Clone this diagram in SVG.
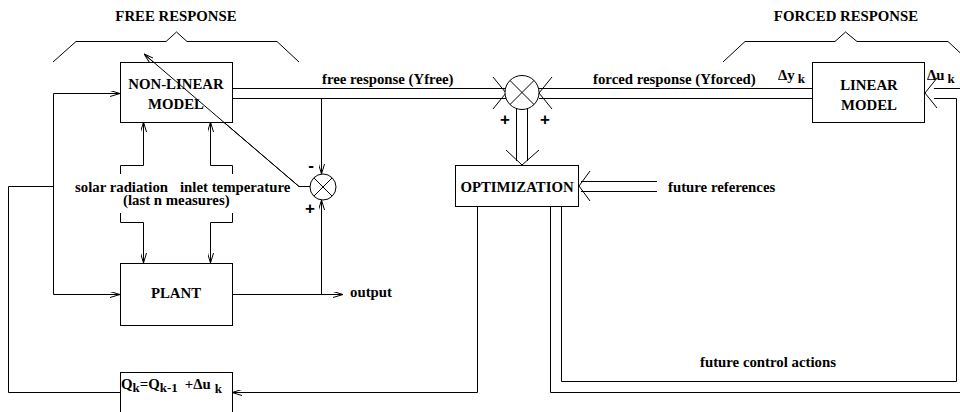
<svg xmlns="http://www.w3.org/2000/svg" width="960" height="412" viewBox="0 0 960 412">
<defs>
<style>
.l{fill:none;stroke:#000;stroke-width:1}
.b{fill:#fff;stroke:#000;stroke-width:1}
text{font-family:"Liberation Serif","Times New Roman",serif;font-weight:bold;font-size:14.8px;fill:#000}
.c{text-anchor:middle}
.s{font-size:13px}
.p{font-family:"Liberation Sans",Arial,sans-serif;font-size:17px}
</style>
<marker id="a" viewBox="0 0 10 6" refX="10" refY="3" markerWidth="10" markerHeight="6" orient="auto" markerUnits="userSpaceOnUse">
<path d="M0,0 L10,3 L0,6" fill="none" stroke="#000" stroke-width="1"/>
</marker>
</defs>
<rect width="960" height="412" fill="#fff"/>

<g id="brackets">
<path class="l" d="M53,62 L76,41.5 L166,41.5 L176.5,32 L187,41.5 L277,41.5 L299,62"/>
<path class="l" d="M723,62 L745,41.5 L835,41.5 L845.5,32 L857,41.5 L948,41.5 L970,62"/>
<text class="c" x="176" y="21">FREE RESPONSE</text>
<text class="c" x="846" y="21">FORCED RESPONSE</text>
</g>

<g id="connectors">
<path class="l" d="M232,88.5 H506 M232,98.5 H506"/>
<path class="l" d="M493,77 L506,93 L493,109"/>
<path class="l" d="M539,88.5 H812 M539,98.5 H812"/>
<path class="l" d="M552,77 L539,93 L552,109"/>
<path class="l" d="M516.5,108 V161 M527.5,108 V161"/>
<path class="l" d="M506,150 L522,165 L539,150"/>
<path class="l" d="M657,181.5 H581 M657,191.5 H581"/>
<path class="l" d="M590,171 L579,186 L590,201"/>
<path class="l" d="M550.5,206 V392.5 H968 V88.5 H934"/>
<path class="l" d="M561.5,206 V381.5 H956.5 V98.5 H934"/>
<path class="l" d="M937,78 L925,93 L937,108"/>
<path class="l" d="M477.5,206 V392.5 H232" marker-end="url(#a)"/>
<path class="l" d="M120,392.5 H8.5 V186.5 H53.5"/>
<path class="l" d="M53.5,93.5 H120" marker-end="url(#a)"/>
<path class="l" d="M53.5,93.5 V294.5 H120" marker-end="url(#a)"/>
<path class="l" d="M120.5,174 V165.5 H143.5 V122" marker-end="url(#a)"/>
<path class="l" d="M232.5,174 V165.5 H210.5 V122" marker-end="url(#a)"/>
<path class="l" d="M120.5,213 V222.5 H143.5 V263" marker-end="url(#a)"/>
<path class="l" d="M232.5,213 V222.5 H210.5 V263" marker-end="url(#a)"/>
<path class="l" d="M321.5,98.5 V174" marker-end="url(#a)"/>
<path class="l" d="M232,294.5 H343" marker-end="url(#a)"/>
<path class="l" d="M321.5,294.5 V200" marker-end="url(#a)"/>
<path class="l" d="M310,186.5 H299 L144,54" marker-end="url(#a)"/>
</g>

<g id="nonlinear">
<rect class="b" x="120.5" y="62.5" width="112" height="60"/>
<text class="c" x="176" y="89">NON-LINEAR</text>
<text class="c" x="176" y="109">MODEL</text>
</g>
<path class="l" d="M299,186.5 L144,54"/>

<g id="plant">
<rect class="b" x="120.5" y="263.5" width="112" height="62"/>
<text class="c" x="176" y="298">PLANT</text>
</g>

<g id="qbox">
<rect class="b" x="120.5" y="372.5" width="112" height="45"/>
<text x="121" y="389">Q<tspan class="s" dy="3">k</tspan><tspan dy="-3">=Q</tspan><tspan class="s" dy="3">k-1</tspan><tspan dy="-3" dx="7">+Δu</tspan><tspan class="s" dy="4" dx="4">k</tspan></text>
</g>

<g id="optimization">
<rect class="b" x="455.5" y="165.5" width="123" height="41"/>
<text class="c" x="517" y="192">OPTIMIZATION</text>
</g>

<g id="linear">
<rect class="b" x="812.5" y="62.5" width="112" height="60"/>
<text class="c" x="869" y="90">LINEAR</text>
<text class="c" x="869" y="110">MODEL</text>
</g>

<g id="sum-main">
<circle class="b" cx="522" cy="92.5" r="17"/>
<path class="l" d="M510,80.5 L534,104.5 M534,80.5 L510,104.5"/>
<text class="c p" x="505" y="125">+</text>
<text class="c p" x="545" y="125">+</text>
</g>

<g id="sum-error">
<circle class="b" cx="323" cy="187" r="13"/>
<path class="l" d="M314,178 L332,196 M332,178 L314,196"/>
<text class="c p" x="311" y="171">-</text>
<text class="c p" x="310" y="214">+</text>
</g>

<g id="labels">
<text x="322" y="84">free response (Yfree)</text>
<text x="593" y="84">forced response (Yforced)</text>
<text x="778" y="80">Δy<tspan class="s" dx="3" dy="3">k</tspan></text>
<text x="927" y="80">Δu<tspan class="s" dx="3" dy="3">k</tspan></text>
<text x="75" y="192">solar radiation</text>
<text x="180" y="192">inlet temperature</text>
<text x="123" y="205">(last n measures)</text>
<text x="350" y="297">output</text>
<text x="668" y="192">future references</text>
<text x="700" y="367">future control actions</text>
</g>
</svg>
